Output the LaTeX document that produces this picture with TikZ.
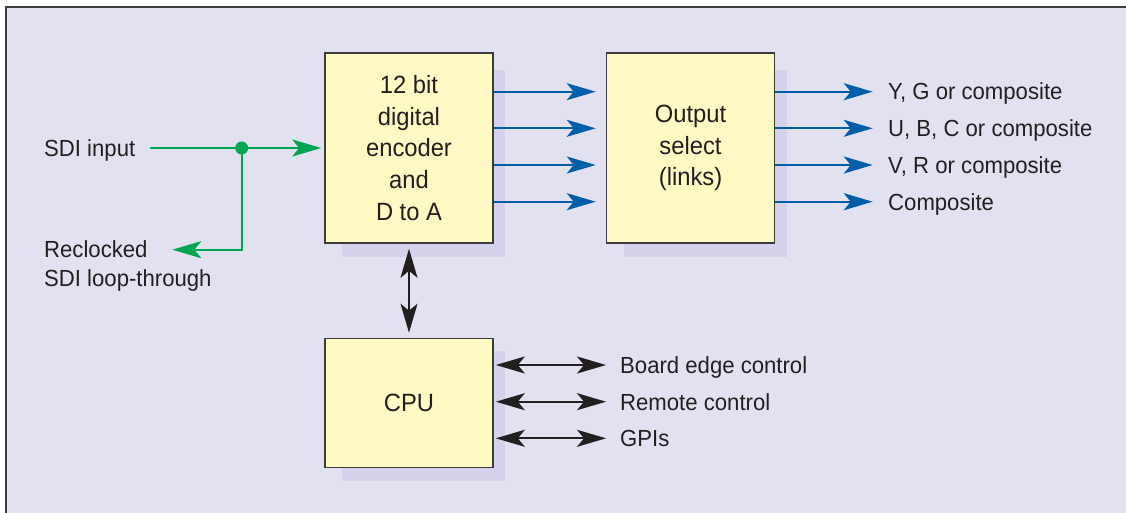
\documentclass[tikz,border=0pt]{standalone}
\usepackage{fontspec}
\setmainfont{Liberation Sans}[FakeStretch=0.95]
\usetikzlibrary{arrows.meta}
\definecolor{bgc}{RGB}{226,225,240}
\definecolor{boxc}{RGB}{255,250,196}
\definecolor{shadc}{RGB}{212,210,234}
\definecolor{txtc}{RGB}{35,31,32}
\definecolor{bluec}{RGB}{0,94,168}
\definecolor{greenc}{RGB}{0,166,81}
\definecolor{framec}{RGB}{60,60,62}
\tikzset{
  blk/.style={draw=framec, line width=1.6pt, fill=boxc, text=txtc, align=center,
    inner sep=0pt, font=\fontsize{25}{31.7}\selectfont},
  lbl/.style={text=txtc, inner sep=0pt, anchor=base west, align=left,
    font=\fontsize{23.3}{29}\selectfont},
  tip/.tip={Stealth[length=29pt, width=17pt, inset=7pt]},
  barrow/.style={draw=bluec, line width=2pt, -{tip}},
  garrow/.style={draw=greenc, line width=2pt, -{tip}},
  karrow/.style={draw=txtc, line width=2pt, {tip}-{tip}},
}
\begin{document}
\begin{tikzpicture}[x=1pt, y=-1pt]
\useasboundingbox (0,0) rectangle (1126,513);
\fill[white] (0,0) rectangle (1126,513);
\fill[bgc] (6,7) rectangle (1126,513);
\draw[framec, line width=2pt] (6,513) -- (6,7) -- (1126,7);

% shadows
\fill[shadc] (342,70) rectangle (505,257);
\fill[shadc] (624,70) rectangle (787,257);
\fill[shadc] (342,351) rectangle (505,481);

% boxes
\node[blk, minimum width=168pt, minimum height=190pt] (enc) at (409,148)
  {12 bit\\digital\\encoder\\and\\D to A};
\node[blk, minimum width=168pt, minimum height=190pt] (sel) at (690.5,148)
  {Output\\select\\(links)};
\node[blk, minimum width=168pt, minimum height=129pt] (cpu) at (409,403)
  {CPU};

% input side
\node[lbl] (sdi) at (44,157) {SDI input};
\node[lbl] (recl) at (44,286.7) {Reclocked\\SDI loop-through};
\coordinate (g0) at (150,148);
\coordinate (gend) at (172.3,249.7);
\node[circle, fill=greenc, inner sep=0pt, minimum size=13pt] (j) at (241.7,148) {};
\draw[garrow, shorten >=3pt] (g0) -- (enc.west |- g0);
\draw[garrow] (j.center) |- (gend);

% encoder to output select
\foreach \yy in {91.7,128.3,165,201.7}{
  \draw[barrow, shorten >=10pt] (enc.east |- 0,\yy) -- (sel.west |- 0,\yy);
}

% outputs
\node[lbl] (o1) at (888,100) {Y, G or composite};
\node[lbl] (o2) at (888,136.6) {U, B, C or composite};
\node[lbl] (o3) at (888,173.3) {V, R or composite};
\node[lbl] (o4) at (888,210) {Composite};
\coordinate (e1) at (872.7,91.7);
\coordinate (e2) at (872.7,128.3);
\coordinate (e3) at (872.7,165);
\coordinate (e4) at (872.7,201.7);
\draw[barrow] (sel.east |- e1) -- (e1);
\draw[barrow] (sel.east |- e2) -- (e2);
\draw[barrow] (sel.east |- e3) -- (e3);
\draw[barrow] (sel.east |- e4) -- (e4);

% encoder <-> cpu
\draw[karrow, shorten <=5pt, shorten >=5pt] (enc.south) -- (cpu.north);

% cpu controls
\node[lbl] (c1) at (620,373.5) {Board edge control};
\node[lbl] (c2) at (620,410.2) {Remote control};
\node[lbl] (c3) at (620,446.8) {GPIs};
\coordinate (k1) at (606,365);
\coordinate (k2) at (606,401.7);
\coordinate (k3) at (606,438.3);
\draw[karrow, shorten <=2pt] (cpu.east |- k1) -- (k1);
\draw[karrow, shorten <=2pt] (cpu.east |- k2) -- (k2);
\draw[karrow, shorten <=2pt] (cpu.east |- k3) -- (k3);
\end{tikzpicture}
\end{document}
